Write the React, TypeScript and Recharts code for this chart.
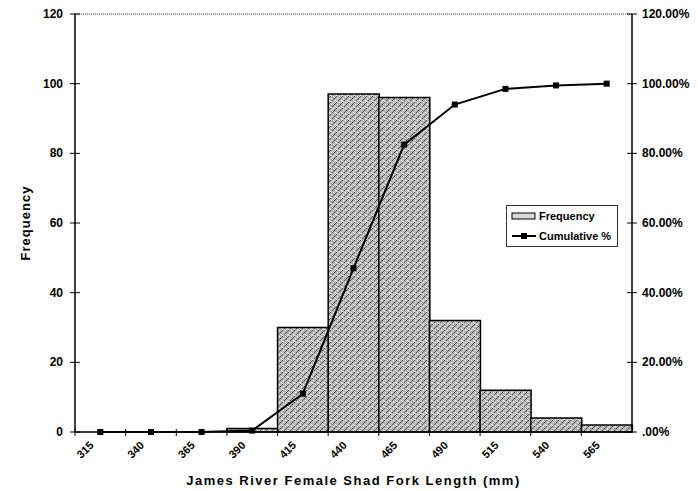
import { ComposedChart, Bar, Line, XAxis, YAxis, Legend, ReferenceLine } from "recharts";

const bins = ["315", "340", "365", "390", "415", "440", "465", "490", "515", "540", "565"];
const frequency = [0, 0, 0, 1, 30, 97, 96, 32, 12, 4, 2];
const cumulativePct = [0, 0, 0, 0.4, 11, 47, 82.5, 94, 98.5, 99.5, 100];
const freqTicks = [0, 20, 40, 60, 80, 100, 120];
const pctTicks = [0, 20, 40, 60, 80, 100, 120];

const W = 698;
const H = 491;
const M = { top: 14, left: 75, right: 66, bottom: 59 };
const FONT = '"Liberation Sans", Arial, Helvetica, sans-serif';
const BAND = (W - M.left - M.right) / bins.length;

const data = bins.map((bin, i) => ({ bin, freq: frequency[i], cum: cumulativePct[i] }));

const pctLabel = (v: number) => (v === 0 ? ".00%" : `${v.toFixed(2)}%`);

function XTick({ x, y, payload }: any) {
  const tx = x - 6;
  const ty = y + 14;
  return (
    <g>
      <line x1={x - BAND / 2} x2={x - BAND / 2} y1={y - 3} y2={y + 4} stroke="#000" strokeWidth={1} />
      <text
        x={tx}
        y={ty}
        textAnchor="end"
        transform={`rotate(-45 ${tx} ${ty})`}
        fontSize={11}
        fontWeight="bold"
        fontFamily={FONT}
        fill="#000"
      >
        {payload.value}
      </text>
    </g>
  );
}

function LeftTick({ x, y, payload }: any) {
  return (
    <g>
      <line x1={x - 5} x2={x + 5} y1={y} y2={y} stroke="#000" />
      <text x={x - 12} y={y + 4} textAnchor="end" fontSize={12} fontWeight="bold" fontFamily={FONT} fill="#000">
        {payload.value}
      </text>
    </g>
  );
}

function RightTick({ x, y, payload }: any) {
  return (
    <g>
      <line x1={x - 5} x2={x + 5} y1={y} y2={y} stroke="#000" />
      <text x={x + 10} y={y + 4} textAnchor="start" fontSize={12} fontWeight="bold" fontFamily={FONT} fill="#000">
        {pctLabel(payload.value)}
      </text>
    </g>
  );
}

function SquareDot({ cx, cy }: any) {
  if (cx == null || cy == null) return null;
  return <rect x={cx - 3} y={cy - 3} width={6} height={6} fill="#000" />;
}

function LegendBox() {
  const row = { display: "flex", alignItems: "center", height: 20 } as const;
  return (
    <div
      style={{
        width: 110,
        height: 40,
        border: "1px solid #333",
        background: "#fff",
        fontFamily: FONT,
        fontWeight: "bold",
        fontSize: 11,
        color: "#000",
        boxSizing: "content-box",
      }}
    >
      <div style={row}>
        <svg width={28} height={10} style={{ marginLeft: 3 }}>
          <rect x={2} y={2} width={23} height={6} fill="#d8d8d8" stroke="#000" strokeWidth={1} />
        </svg>
        <span style={{ marginLeft: 1 }}>Frequency</span>
      </div>
      <div style={row}>
        <svg width={28} height={10} style={{ marginLeft: 3 }}>
          <line x1={2} x2={26} y1={5} y2={5} stroke="#000" strokeWidth={2} />
          <rect x={11} y={2} width={6} height={6} fill="#000" />
        </svg>
        <span style={{ marginLeft: 1 }}>Cumulative %</span>
      </div>
    </div>
  );
}

export default function App() {
  return (
    <div style={{ position: "absolute", left: 0, top: 0, width: W, height: H, background: "#fff" }}>
      <ComposedChart
        width={W}
        height={H}
        data={data}
        barCategoryGap={0}
        barGap={0}
        margin={{ top: M.top, right: 0, left: 0, bottom: 0 }}
      >
        <defs>
          <pattern id="stipple" width="6" height="6" patternUnits="userSpaceOnUse">
            <rect width="6" height="6" fill="#b6b6b6" />
            <rect x="0" y="0" width="1" height="1" fill="#444" />
            <rect x="3" y="0" width="1" height="1" fill="#fff" />
            <rect x="4" y="2" width="1" height="1" fill="#3a3a3a" />
            <rect x="1" y="2" width="1" height="1" fill="#eee" />
            <rect x="2" y="4" width="1" height="1" fill="#555" />
            <rect x="5" y="4" width="1" height="1" fill="#fff" />
            <rect x="0" y="5" width="1" height="1" fill="#fff" />
            <rect x="3" y="3" width="1" height="1" fill="#666" />
            <rect x="5" y="1" width="1" height="1" fill="#666" />
          </pattern>
        </defs>
        <XAxis
          dataKey="bin"
          height={M.bottom}
          interval={0}
          tickSize={0}
          tickMargin={0}
          tickLine={false}
          axisLine={{ stroke: "#000", strokeWidth: 1.5 }}
          tick={<XTick />}
        />
        <YAxis
          yAxisId="left"
          width={M.left}
          domain={[0, 120]}
          ticks={freqTicks}
          interval={0}
          tickSize={0}
          tickMargin={0}
          tickLine={false}
          axisLine={{ stroke: "#000", strokeWidth: 1.5 }}
          tick={<LeftTick />}
        />
        <YAxis
          yAxisId="right"
          orientation="right"
          width={M.right}
          domain={[0, 120]}
          ticks={pctTicks}
          interval={0}
          tickSize={0}
          tickMargin={0}
          tickLine={false}
          axisLine={{ stroke: "#000", strokeWidth: 1.5 }}
          tick={<RightTick />}
        />
        <ReferenceLine yAxisId="left" y={120} stroke="#333" strokeWidth={1} strokeDasharray="1 1" />
        <Bar
          yAxisId="left"
          dataKey="freq"
          name="Frequency"
          fill="url(#stipple)"
          stroke="#000"
          strokeWidth={1.5}
          isAnimationActive={false}
        />
        <Line
          yAxisId="right"
          type="linear"
          dataKey="cum"
          name="Cumulative %"
          stroke="#000"
          strokeWidth={2}
          dot={<SquareDot />}
          activeDot={false}
          isAnimationActive={false}
        />
        <Legend
          layout="vertical"
          align="center"
          verticalAlign="middle"
          content={<LegendBox />}
          wrapperStyle={{ left: 506, top: 205, width: 112, height: 42 }}
        />
        <text
          x={25}
          y={(M.top + H - M.bottom) / 2}
          transform={`rotate(-90 25 ${(M.top + H - M.bottom) / 2})`}
          textAnchor="middle"
          dominantBaseline="central"
          fontSize={13}
          fontWeight="bold"
          letterSpacing={1}
          fontFamily={FONT}
          fill="#000"
        >
          Frequency
        </text>
        <text
          x={M.left + (W - M.left - M.right) / 2}
          y={485}
          textAnchor="middle"
          fontSize={13}
          fontWeight="bold"
          letterSpacing={1.5}
          fontFamily={FONT}
          fill="#000"
        >
          James River Female Shad Fork Length (mm)
        </text>
      </ComposedChart>
    </div>
  );
}
